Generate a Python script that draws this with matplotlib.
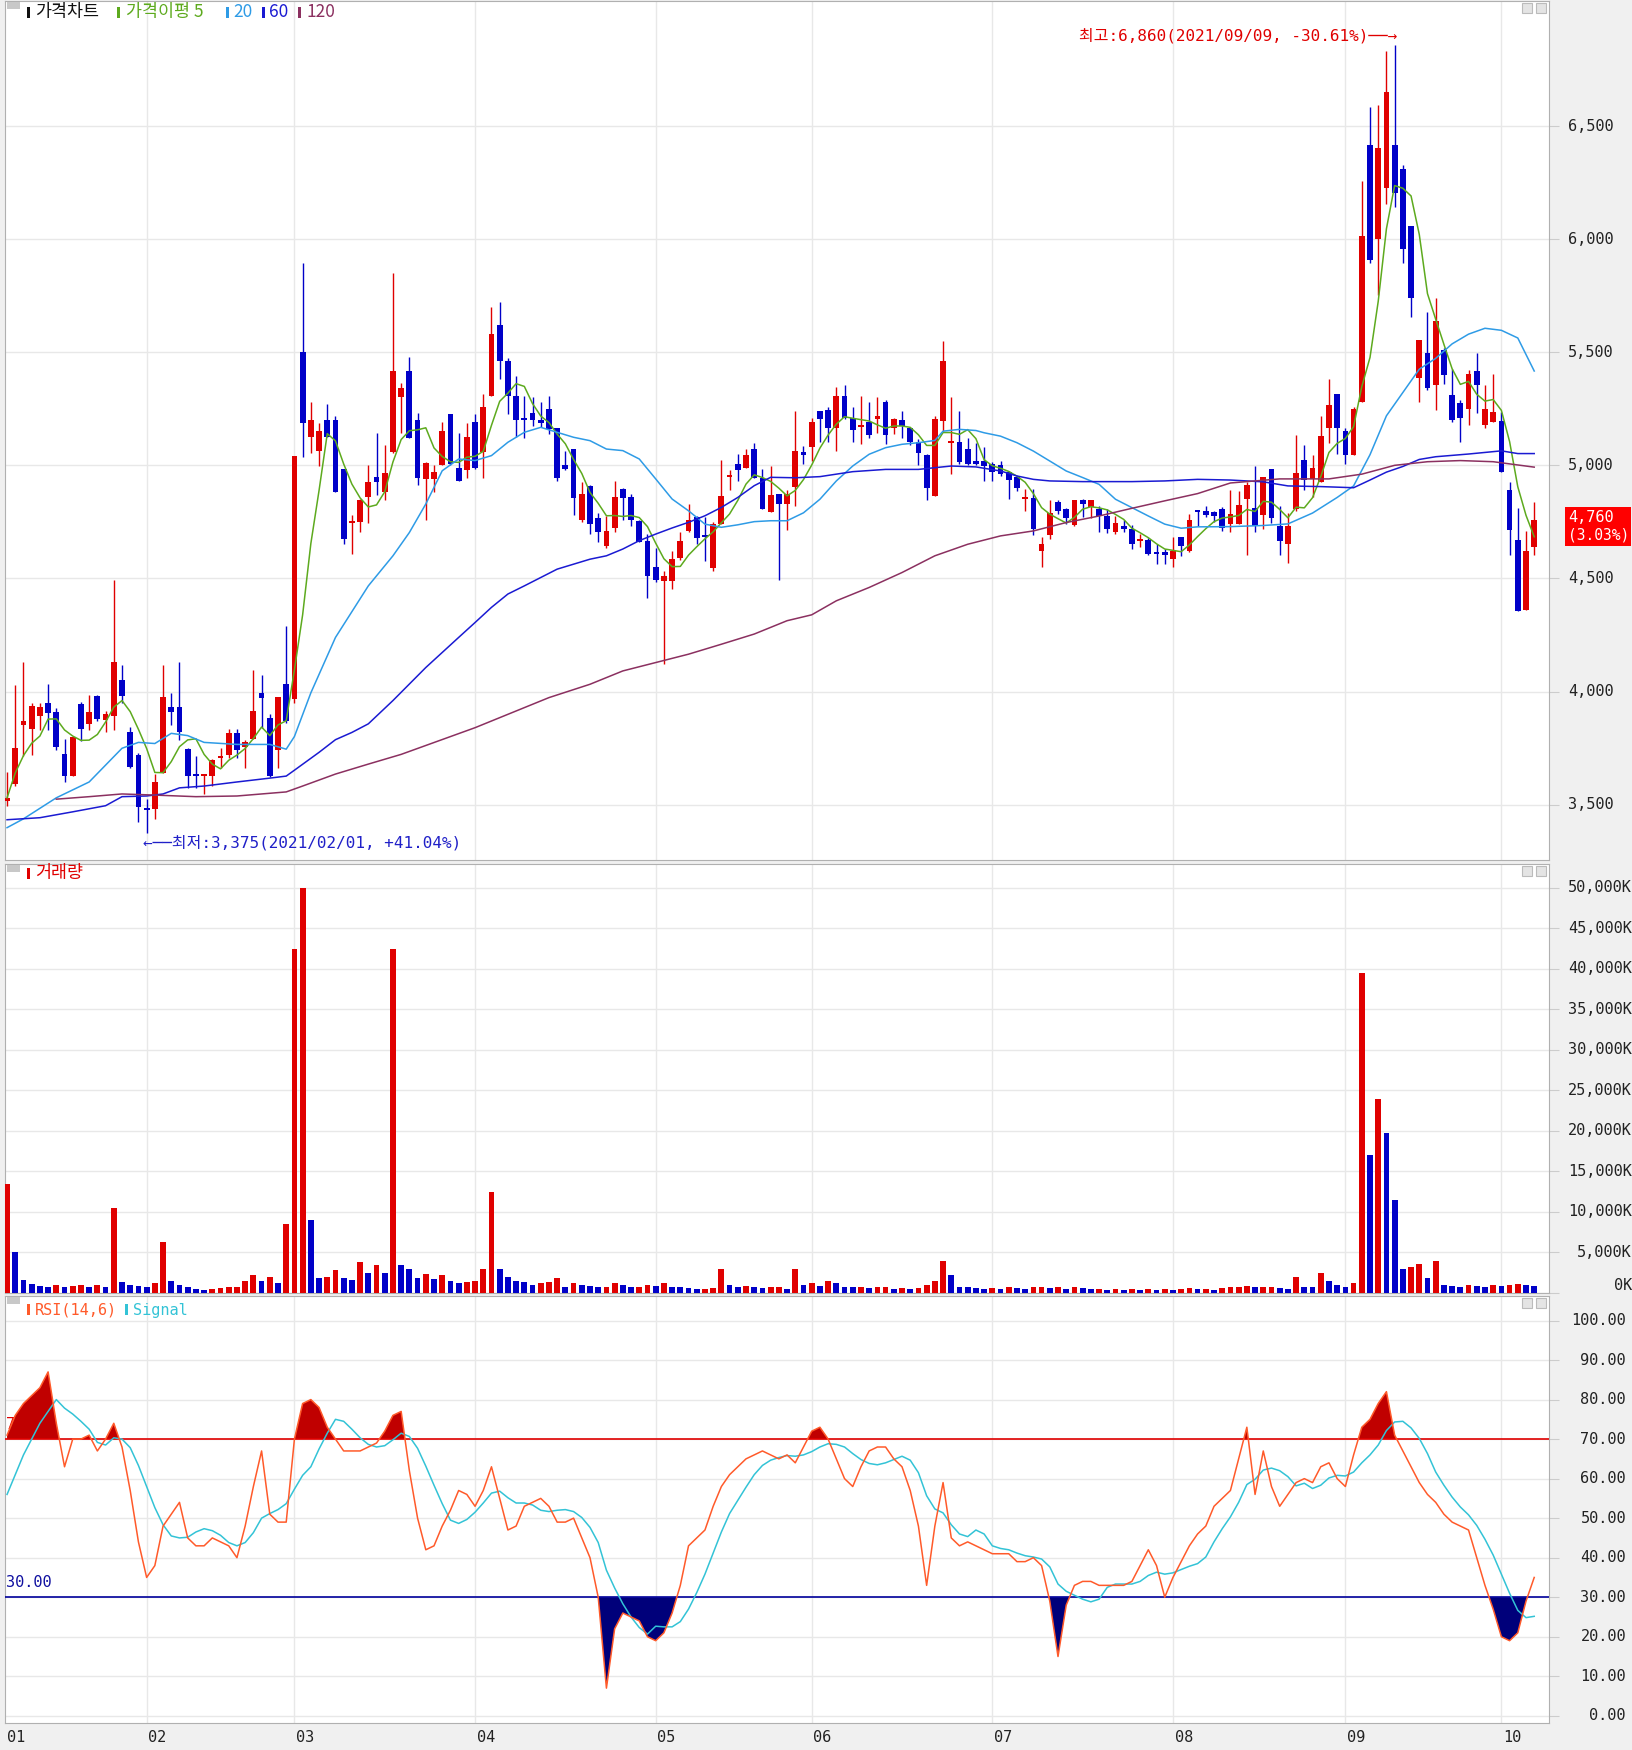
import numpy as np
import pandas as pd
import matplotlib
matplotlib.use("Agg")
import matplotlib.pyplot as plt
import matplotlib.transforms as mtransforms
from matplotlib.patches import Rectangle

W, H = 1632, 1750
KR = ['Noto Sans CJK KR', 'DejaVu Sans']
MONO = ['DejaVu Sans Mono', 'Noto Sans CJK KR', 'DejaVu Sans']

# trading days shown per month (2021/01/07 ~ 2021/10/08)
month_days = [17, 18, 22, 22, 19, 22, 22, 21, 19, 5]
month_labels = ['01', '02', '03', '04', '05', '06', '07', '08', '09', '10']

opens = [
    3515, 3590, 3850, 3835, 3890, 3950, 3910, 3725, 3625, 3945, 3855, 3980, 3875, 3890, 4050, 3820, 3720,
    3485, 3480, 3640, 3930, 3930, 3745, 3630, 3625, 3625, 3705, 3720, 3815, 3755, 3790, 3995, 3885, 3740, 4035,
    3965, 5500, 5125, 5065, 5200, 5200, 4985, 4745, 4750, 4860, 4950, 4880, 5060, 5300, 5415, 5200, 4940, 4940, 5000, 5225, 4990, 4980,
    5190, 5060, 5305, 5620, 5460, 5305, 5210, 5230, 5200, 5250, 5165, 5000, 5070, 4760, 4910, 4765, 4645, 4725, 4895, 4860, 4755, 4665,
    4550, 4490, 4490, 4590, 4710, 4770, 4690, 4545, 4740, 4950, 5005, 4990, 5070, 4945, 4795, 4875, 4830, 4905, 5060,
    5080, 5240, 5245, 5165, 5305, 5210, 5170, 5190, 5205, 5280, 5165, 5200, 5165, 5105, 5045, 4865, 5195, 5100, 5105, 5070, 5020, 5020,
    5005, 5000, 4970, 4950, 4850, 4855, 4620, 4690, 4840, 4805, 4735, 4845, 4815, 4805, 4775, 4705, 4730, 4720, 4665, 4670, 4615, 4615,
    4585, 4685, 4620, 4800, 4800, 4795, 4805, 4740, 4740, 4850, 4810, 4780, 4985, 4730, 4650, 4805, 5025, 4940, 4925, 5165, 5315,
    5150, 5045, 5280, 6415, 6000, 6225, 6415, 6310, 6060, 5385, 5495, 5355, 5510, 5310, 5275, 5250, 5415, 5180, 5190,
    5195, 4890, 4670, 4360, 4640,
]
highs = [
    3645, 4030, 4130, 3950, 3950, 4035, 3925, 3790, 3800, 3955, 3985, 3985, 3915, 4495, 4115, 3845, 3730,
    3525, 3635, 4115, 3995, 4130, 3750, 3715, 3630, 3700, 3750, 3835, 3835, 3785, 4095, 4075, 3900, 3975, 4290,
    5040, 5895, 5280, 5185, 5270, 5220, 4985, 4780, 4850, 5000, 5145, 5090, 5850, 5365, 5480, 5230, 5015, 5000, 5190, 5225, 5145, 5185,
    5225, 5315, 5700, 5720, 5475, 5395, 5305, 5300, 5280, 5305, 5165, 5065, 5070, 4925, 4915, 4790, 4775, 4930, 4900, 4875, 4760, 4695,
    4635, 4535, 4620, 4705, 4830, 4775, 4770, 4750, 5025, 4980, 5050, 5070, 5100, 4985, 4995, 4875, 4890, 5240, 5085,
    5210, 5240, 5260, 5345, 5355, 5260, 5305, 5280, 5300, 5290, 5210, 5240, 5165, 5115, 5050, 5220, 5550, 5300, 5240, 5120, 5100, 5080,
    5015, 5020, 4975, 4955, 4895, 4895, 4685, 4845, 4845, 4810, 4845, 4850, 4845, 4820, 4805, 4775, 4760, 4735, 4695, 4680, 4650, 4630,
    4685, 4685, 4785, 4800, 4820, 4800, 4815, 4890, 4885, 4925, 4995, 4950, 4985, 4820, 4790, 5135, 5090, 5045, 5220, 5380, 5315,
    5165, 5260, 6255, 6585, 6595, 6830, 6860, 6330, 6060, 5555, 5680, 5740, 5520, 5425, 5290, 5420, 5495, 5355, 5405,
    5235, 4925, 4810, 4710, 4840,
]
lows = [
    3495, 3580, 3715, 3720, 3830, 3830, 3740, 3600, 3625, 3780, 3830, 3870, 3820, 3830, 3950, 3660, 3425,
    3375, 3435, 3640, 3850, 3785, 3575, 3575, 3545, 3580, 3660, 3705, 3705, 3660, 3790, 3840, 3620, 3660, 3860,
    3950, 5035, 5055, 4995, 5125, 4880, 4650, 4610, 4705, 4745, 4870, 4845, 5055, 5145, 5120, 4915, 4760, 4880, 5000, 5000, 4930, 4945,
    4985, 4945, 5305, 5380, 5225, 5125, 5120, 5175, 5170, 5140, 4930, 4980, 4780, 4750, 4695, 4660, 4635, 4705, 4760, 4730, 4660, 4415,
    4485, 4120, 4455, 4580, 4705, 4650, 4575, 4535, 4740, 4890, 4930, 4990, 4945, 4805, 4795, 4495, 4715, 4820, 5005,
    5020, 5105, 5105, 5065, 5205, 5105, 5095, 5120, 5145, 5095, 5140, 5120, 5090, 5000, 4845, 4865, 5150, 4960, 5005, 5000, 5000, 4930,
    4930, 4955, 4850, 4885, 4800, 4690, 4550, 4675, 4785, 4740, 4730, 4770, 4765, 4705, 4700, 4695, 4705, 4630, 4640, 4605, 4565, 4565,
    4550, 4600, 4615, 4730, 4770, 4750, 4710, 4705, 4740, 4605, 4705, 4720, 4745, 4605, 4570, 4800, 4890, 4860, 4925, 5100, 5050,
    5005, 5045, 5280, 5895, 5755, 6155, 6140, 5895, 5655, 5280, 5335, 5245, 5360, 5190, 5105, 5180, 5230, 5165, 5190,
    4970, 4605, 4355, 4360, 4605,
]
closes = [
    3530, 3750, 3870, 3935, 3930, 3905, 3755, 3625, 3800, 3835, 3910, 3880, 3900, 4130, 3980, 3665, 3490,
    3475, 3600, 3975, 3910, 3820, 3625, 3625, 3630, 3695, 3715, 3815, 3740, 3775, 3915, 3970, 3625, 3975, 3870,
    5040, 5185, 5200, 5150, 5125, 4880, 4675, 4755, 4845, 4925, 4925, 4965, 5415, 5340, 5120, 4945, 5010, 4970, 5150, 5005, 4930, 5125,
    4990, 5260, 5580, 5460, 5305, 5200, 5200, 5200, 5185, 5160, 4945, 4985, 4855, 4875, 4740, 4705, 4710, 4860, 4855, 4760, 4660, 4510,
    4495, 4510, 4585, 4665, 4760, 4680, 4685, 4740, 4865, 4955, 4980, 5045, 4945, 4805, 4870, 4830, 4875, 5065, 5045,
    5190, 5205, 5165, 5305, 5210, 5155, 5175, 5135, 5220, 5135, 5205, 5175, 5105, 5055, 4900, 5205, 5460, 5105, 5015, 5005, 5005, 4995,
    4970, 4960, 4935, 4900, 4860, 4720, 4650, 4790, 4800, 4765, 4845, 4830, 4845, 4775, 4720, 4745, 4720, 4650, 4675, 4610, 4610, 4605,
    4620, 4645, 4760, 4795, 4780, 4775, 4725, 4785, 4825, 4915, 4730, 4950, 4765, 4665, 4730, 4965, 4935, 4990, 5130, 5265, 5165,
    5045, 5250, 6015, 5910, 6405, 6650, 6205, 5955, 5740, 5555, 5340, 5640, 5400, 5200, 5210, 5405, 5355, 5250, 5235,
    4970, 4715, 4355, 4620, 4760,
]
# volume, thousand shares
volume = [
    13500, 5000, 1600, 1100, 900, 800, 1000, 700, 900, 1000, 800, 1000, 700, 10500, 1300, 1000, 900,
    800, 1200, 6300, 1500, 1000, 700, 500, 400, 500, 600, 700, 800, 1500, 2200, 1500, 2000, 1200, 8500,
    42500, 50000, 9000, 1800, 2000, 2800, 1800, 1600, 3800, 2500, 3500, 2500, 42500, 3500, 3000, 1800, 2300, 1700, 2200, 1500, 1200, 1400,
    1500, 3000, 12500, 3000, 2000, 1500, 1300, 1000, 1200, 1400, 1800, 700, 1200, 1000, 900, 700, 800, 1200, 1000, 700, 800, 1000,
    900, 1200, 800, 700, 600, 500, 500, 600, 3000, 1000, 800, 900, 800, 600, 700, 800, 500, 3000, 1000,
    1200, 900, 1500, 1200, 800, 700, 800, 600, 700, 800, 500, 600, 500, 600, 1000, 1500, 4000, 2200, 800, 700, 600, 500,
    600, 500, 700, 600, 500, 700, 800, 600, 700, 500, 700, 600, 500, 500, 400, 500, 400, 500, 400, 500, 400, 500,
    400, 500, 600, 500, 500, 400, 600, 700, 800, 900, 700, 700, 800, 600, 500, 2000, 800, 700, 2500, 1500, 1000,
    700, 1200, 39500, 17000, 24000, 19800, 11500, 3000, 3200, 3600, 1800, 4000, 1000, 900, 800, 1000, 900, 800, 1000,
    900, 1000, 1100, 1000, 900,
]
rsi = [
    71, 76, 79, 81, 83, 87, 74, 63, 70, 70, 71, 67, 70, 74, 68, 57, 44,
    35, 38, 48, 51, 54, 45, 43, 43, 45, 44, 43, 40, 48, 58, 67, 51, 49, 49,
    70, 79, 80, 78, 73, 70, 67, 67, 67, 68, 69, 72, 76, 77, 62, 50, 42, 43, 48, 52, 57, 56,
    53, 57, 63, 55, 47, 48, 53, 54, 55, 53, 49, 49, 50, 45, 40, 30, 7, 22, 26, 25, 24, 20,
    19, 21, 26, 33, 43, 45, 47, 53, 58, 61, 63, 65, 66, 67, 66, 65, 66, 64, 68,
    72, 73, 70, 65, 60, 58, 63, 67, 68, 68, 65, 63, 57, 48, 33, 48, 59, 45, 43, 44, 43, 42,
    41, 41, 41, 39, 39, 40, 38, 29, 15, 28, 33, 34, 34, 33, 33, 33, 33, 34, 38, 42, 38, 30,
    35, 39, 43, 46, 48, 53, 55, 57, 65, 73, 56, 67, 58, 53, 56, 59, 60, 59, 63, 64, 60,
    58, 66, 73, 75, 79, 82, 71, 67, 63, 59, 56, 54, 51, 49, 48, 47, 40, 33, 27,
    20, 19, 21, 29, 35,
]
# signal line at the left edge already carries earlier history
signal_start = [56, 61, 66, 70, 74, 77]

# longer moving averages (trading-day index, price)
ma20_days = [-17, -15, -11, -7, -3, -1, 1, 3, 5, 7, 11, 15, 17, 18, 20, 23, 27, 30, 32, 34, 36, 38, 40, 42, 44,
             46, 48, 50, 52, 54, 56, 58, 60, 62, 64, 66, 68, 70, 72, 74, 76, 78, 80, 82, 84, 86, 88, 90, 92, 94,
             96, 97, 99, 101, 102, 104, 106, 108, 110, 112, 114, 116, 118, 120, 122, 124, 126, 128, 132, 136, 139,
             142, 145, 147, 149, 151, 153, 155, 157, 159, 161, 163, 165, 167, 169]
ma20_vals = [3398, 3437, 3530, 3600, 3749, 3775, 3770, 3815, 3805, 3775, 3766, 3766, 3745, 3801, 3994, 4239, 4467,
             4600, 4703, 4829, 4976, 5028, 5021, 5043, 5102, 5146, 5168, 5146, 5124, 5109, 5072, 5065, 5028, 4940,
             4851, 4799, 4740, 4726, 4737, 4751, 4755, 4755, 4790, 4850, 4931, 4997, 5049, 5078, 5093, 5100, 5110,
             5151, 5159, 5154, 5144, 5129, 5100, 5063, 5019, 4975, 4946, 4916, 4850, 4813, 4776, 4740, 4722, 4728,
             4729, 4734, 4741, 4789, 4858, 4909, 5047, 5219, 5322, 5425, 5473, 5537, 5580, 5606, 5597, 5563, 5417]
ma60_days = [-17, -13, -9, -5, -3, 0, 2, 4, 7, 11, 15, 17, 18, 21, 23, 25, 27, 30, 34, 38, 40, 42, 44, 46, 48,
             50, 52, 54, 56, 58, 60, 62, 64, 66, 68, 70, 72, 74, 76, 79, 82, 86, 90, 94, 98, 101, 104, 106, 108,
             110, 114, 120, 124, 128, 132, 136, 139, 143, 147, 149, 151, 153, 155, 157, 161, 165, 167, 169]
ma60_vals = [3433, 3442, 3468, 3495, 3535, 3538, 3547, 3574, 3582, 3600, 3617, 3626, 3652, 3731, 3787, 3819, 3857,
             3960, 4106, 4239, 4305, 4372, 4431, 4467, 4504, 4541, 4563, 4585, 4600, 4630, 4667, 4696, 4723, 4748,
             4777, 4814, 4858, 4910, 4947, 4945, 4950, 4972, 4982, 4982, 4997, 4993, 4975, 4953, 4938, 4931, 4928,
             4928, 4931, 4938, 4935, 4927, 4909, 4906, 4901, 4935, 4970, 4995, 5026, 5038, 5050, 5064, 5052, 5052]
ma120_days = [-11, -7, -3, 1, 6, 11, 17, 19, 23, 27, 31, 40, 49, 54, 58, 62, 66, 70, 74, 78, 81, 84, 88, 92, 96,
              100, 104, 108, 112, 116, 120, 124, 128, 132, 138, 144, 148, 152, 156, 160, 164, 169]
ma120_vals = [3524, 3535, 3547, 3542, 3535, 3538, 3556, 3582, 3635, 3679, 3722, 3840, 3973, 4032, 4091, 4128, 4165,
              4209, 4254, 4313, 4339, 4401, 4460, 4526, 4600, 4651, 4688, 4710, 4747, 4776, 4810, 4843, 4875, 4922,
              4940, 4940, 4961, 5000, 5016, 5021, 5016, 4992]

RED = '#E00000'
BLUE = '#0000C8'

o = np.array(opens); h = np.array(highs); l = np.array(lows); c = np.array(closes)
vol = np.array(volume); r = np.array(rsi, dtype=float)
x = np.arange(len(c)) - month_days[0]
month_start = np.cumsum([0] + month_days[:-1]) - month_days[0]
XLIM = (-17.25, 170.8)

ma5 = pd.Series(c).rolling(5, min_periods=1).mean()
signal = pd.Series(r).rolling(6, min_periods=1).mean().to_numpy()
signal[:len(signal_start)] = signal_start

fig = plt.figure(figsize=(W / 100, H / 100), dpi=100, facecolor='#F0F0F0')


def px_rect(x0, y0, x1, y1):
    return [x0 / W, 1 - y1 / H, (x1 - x0) / W, (y1 - y0) / H]


def fig_text(xp, yp, s, **kw):
    kw.setdefault('va', 'center')
    fig.text(xp / W, 1 - yp / H, s, **kw)


def fig_box(x0, y0, x1, y1, fc, ec='none'):
    fig.add_artist(Rectangle((x0 / W, 1 - y1 / H), (x1 - x0) / W, (y1 - y0) / H,
                             transform=fig.transFigure, facecolor=fc, edgecolor=ec, lw=0.8))


def style(ax, yticks):
    ax.set_facecolor('white')
    ax.set_xlim(XLIM)
    ax.set_xticks(month_start[1:])
    ax.set_yticks(yticks)
    ax.grid(True, color='#E8E8E8', lw=1)
    ax.set_axisbelow(True)
    ax.tick_params(axis='x', bottom=False, labelbottom=False)
    ax.tick_params(axis='y', left=False, labelleft=False, right=True, labelright=False,
                   length=7, color='#CCCCCC')
    for sp in ax.spines.values():
        sp.set_color('#B0B0B0')


def ylabels(ax, vals, texts, xp, ha):
    tr = mtransforms.blended_transform_factory(fig.transFigure, ax.transData)
    for v, t in zip(vals, texts):
        ax.text(xp / W, v, t, transform=tr, ha=ha, va='center', fontsize=11,
                color='#222222', family=MONO)


# ---------------- price ----------------
ax1 = fig.add_axes(px_rect(5, 1, 1549, 860))
ax1.set_ylim(3255, 7053)
pticks = list(range(3500, 7000, 500))
style(ax1, pticks)
ylabels(ax1, pticks, [f'{v:,}' for v in pticks], 1568, 'left')

colors = np.where(c >= o, RED, BLUE)
ax1.vlines(x, l, h, colors=colors, lw=1.0, zorder=3)
ax1.bar(x, np.maximum(np.abs(c - o), 9), bottom=np.minimum(o, c), width=0.7,
        color=colors, lw=0, zorder=3)

ax1.plot(x, ma5, color='#5DAA1E', lw=1.1, zorder=4)
ax1.plot(ma20_days, ma20_vals, color='#2E9BE6', lw=1.1, zorder=4)
ax1.plot(ma60_days, ma60_vals, color='#1A1AD2', lw=1.1, zorder=4)
ax1.plot(ma120_days, ma120_vals, color='#8B3060', lw=1.1, zorder=4)

ax1.text(152.3, 6898, '최고:6,860(2021/09/09, -30.61%)\u2500\u2500\u2192', ha='right', va='center',
         color=RED, fontsize=11.5, family=MONO)
ax1.text(-0.4, 3332, '\u2190\u2500\u2500최저:3,375(2021/02/01, +41.04%)', ha='left', va='center',
         color='#2020C8', fontsize=11.5, family=MONO)

# ---------------- volume ----------------
ax2 = fig.add_axes(px_rect(5, 864, 1549, 1293))
ax2.set_ylim(0, 52960)
vticks = list(range(0, 50001, 5000))
style(ax2, vticks)
ylabels(ax2, vticks[1:], [f'{v:,}K' for v in vticks[1:]], 1632, 'right')
tr2 = mtransforms.blended_transform_factory(fig.transFigure, ax2.transData)
ax2.text(1632 / W, 0, '0K', transform=tr2, ha='right', va='bottom', fontsize=11,
         color='#222222', family=MONO)
prev = np.concatenate([[0], vol[:-1]])
vcolors = np.where(vol >= prev, RED, BLUE)
ax2.bar(x, vol, width=0.7, color=vcolors, lw=0, zorder=3)

# ---------------- RSI ----------------
ax3 = fig.add_axes(px_rect(5, 1296, 1549, 1723))
ax3.set_ylim(-1.82, 106.2)
rticks = list(range(0, 101, 10))
style(ax3, rticks)
ylabels(ax3, rticks, [f'{v:.2f}' for v in rticks], 1626, 'right')

ax3.text(-17.1, 72.5, '70.00', color=RED, fontsize=11, zorder=1, family=MONO)
ax3.text(-17.1, 32.5, '30.00', color='#1010A0', fontsize=11, zorder=1, family=MONO)
ax3.fill_between(x, r, 70, where=r >= 70, interpolate=True, color='#C00000', lw=0, zorder=2)
ax3.fill_between(x, r, 30, where=r <= 30, interpolate=True, color='#00007A', lw=0, zorder=2)
ax3.axhline(70, color=RED, lw=1.2, zorder=3)
ax3.axhline(30, color='#00009A', lw=1.2, zorder=3)
ax3.plot(x, signal, color='#33C3D6', lw=1.1, zorder=4)
ax3.plot(x, r, color='#FF5A2A', lw=1.1, zorder=5)

# month labels
trm = mtransforms.blended_transform_factory(ax3.transData, fig.transFigure)
ax3.text(XLIM[0] + 0.3, 1 - 1737 / H, month_labels[0], transform=trm, ha='left', va='center',
         fontsize=11, color='#222222', family=MONO)
for d, lab in zip(month_start[1:], month_labels[1:]):
    ax3.text(d + 0.2, 1 - 1737 / H, lab, transform=trm, ha='left', va='center',
             fontsize=11, color='#222222', family=MONO)

# ---------------- legends and panel icons ----------------
for top in (1, 864, 1296):
    fig_box(7, top + 1, 20, top + 8, '#C8C8C8')
    fig_box(1522, top + 2, 1532, top + 12, '#E4E4E4', '#BBBBBB')
    fig_box(1536, top + 2, 1546, top + 12, '#E4E4E4', '#BBBBBB')

legend = [(27, 35, '가격차트', '#111111'), (117, 126, '가격이평 5', '#5DAA1E'),
          (226, 233, '20', '#2E9BE6'), (262, 269, '60', '#1A1AD2'), (298, 306, '120', '#8B3060')]
for mx, tx, s, col in legend:
    fig_box(mx, 7, mx + 3, 18, col)
    fig_text(tx, 12, s, color=col, fontsize=12.5, family=KR)

fig_box(27, 868, 30, 879, RED)
fig_text(35, 873, '거래량', color=RED, fontsize=12.5, family=KR)
fig_box(27, 1304, 30, 1315, '#FF5A2A')
fig_text(35, 1310, 'RSI(14,6)', color='#FF5A2A', fontsize=11, family=MONO)
fig_box(125, 1304, 128, 1315, '#33C3D6')
fig_text(133, 1310, 'Signal', color='#33C3D6', fontsize=11, family=MONO)

# current price tag
fig_box(1565, 507, 1631, 546, '#FF0000')
fig_text(1568, 518, '4,760', color='white', fontsize=11, family=MONO)
fig_text(1568, 535, '(3.03%)', color='white', fontsize=10.5, family=MONO)

fig.savefig('out.png', dpi=100, facecolor=fig.get_facecolor())
